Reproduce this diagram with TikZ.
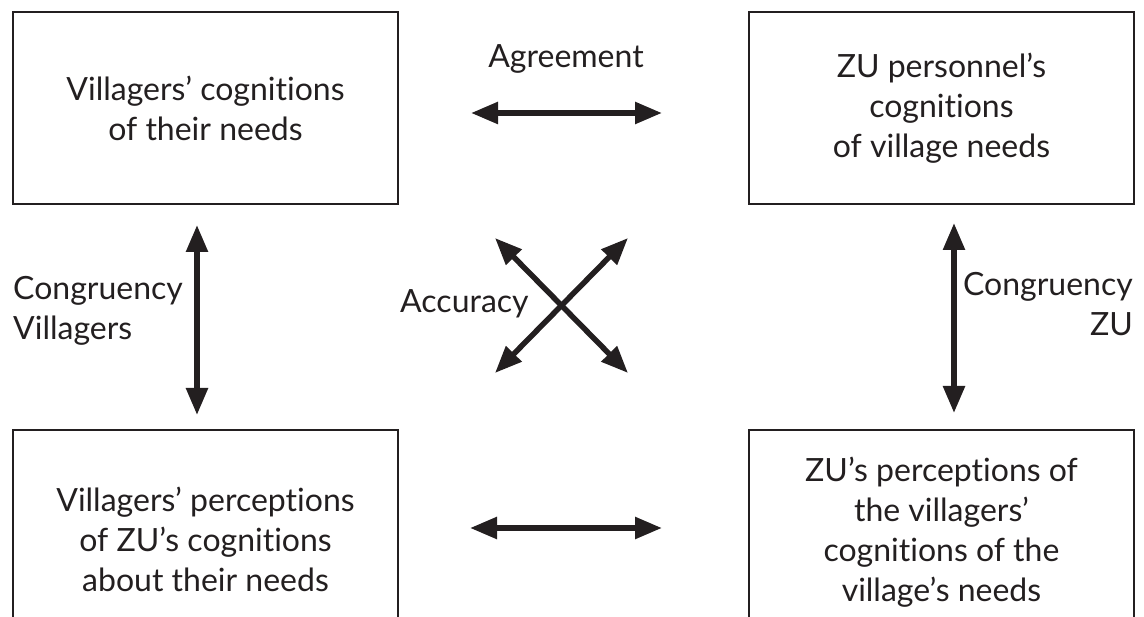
\documentclass[tikz,border=0pt]{standalone}
\usepackage{fontspec}
\setmainfont{Lato}[Ligatures={TeX,NoCommon,NoDiscretionary}]
\usepackage{tikz}
\usetikzlibrary{positioning,arrows.meta}
\definecolor{ink}{RGB}{35,31,32}

\begin{document}
\begin{tikzpicture}[x=1pt, y=-1pt,
    box/.style={draw=ink, line width=2.5pt, rectangle, outer sep=0pt, inner sep=0pt, align=center, text=ink, font=\fontsize{32}{40}\selectfont, minimum width=385pt},
    lbl/.style={inner sep=0pt, text=ink, font=\fontsize{32}{40}\selectfont},
    dbl/.style={draw=ink, line width=5.5pt, {Triangle[length=27pt,width=21pt]}-{Triangle[length=27pt,width=21pt]}}]
    \useasboundingbox (0,0) rectangle (1144,617);
    % Boxes
    \node[box, minimum height=192pt] (tl) at (205.5,108) {Villagers' cognitions\\of their needs};
    \node[box, minimum height=192pt] (tr) at (941.5,108) {ZU personnel's\\cognitions\\of village needs};
    \node[box, minimum height=219pt] (bl) at (205.5,539.5) {Villagers' perceptions\\of ZU's cognitions\\about their needs};
    \node[box, minimum height=204pt] (br) at (941.5,532) {ZU's perceptions of\\the villagers'\\cognitions of the\\village's needs};

    % Rows and columns of the arrows
    \coordinate (toprow) at (0,113);
    \coordinate (lowrow) at (0,528);
    \coordinate (leftcol) at (197,0);
    \coordinate (rightcol) at (954,0);
    \coordinate (accnw) at (495,238);
    \coordinate (accse) at (628,373);
    \coordinate (accne) at (628,238);
    \coordinate (accsw) at (495,373);

    % Connections
    \draw[dbl, shorten <=73pt, shorten >=87pt] (tl.east |- toprow) -- (tr.west |- toprow);
    \draw[dbl, shorten <=72pt, shorten >=87pt] (bl.east |- lowrow) -- (br.west |- lowrow);
    \draw[dbl, shorten <=21pt, shorten >=15pt] (tl.south -| leftcol) -- (bl.north -| leftcol);
    \draw[dbl, shorten <=19pt, shorten >=17pt] (tr.south -| rightcol) -- (br.north -| rightcol);
    \draw[dbl] (accnw) -- (accse);
    \draw[dbl] (accne) -- (accsw);

    % Labels
    \node[lbl, anchor=base] (agree) at (566,68) {Agreement};
    \node[lbl, anchor=base west] (accur) at (400,313) {Accuracy};
    \node[lbl, align=left, anchor=west] (congv) at (13,311) {Congruency\\Villagers};
    \node[lbl, align=right, anchor=east] (congz) at (1133,304) {Congruency\\ZU};
\end{tikzpicture}
\end{document}
